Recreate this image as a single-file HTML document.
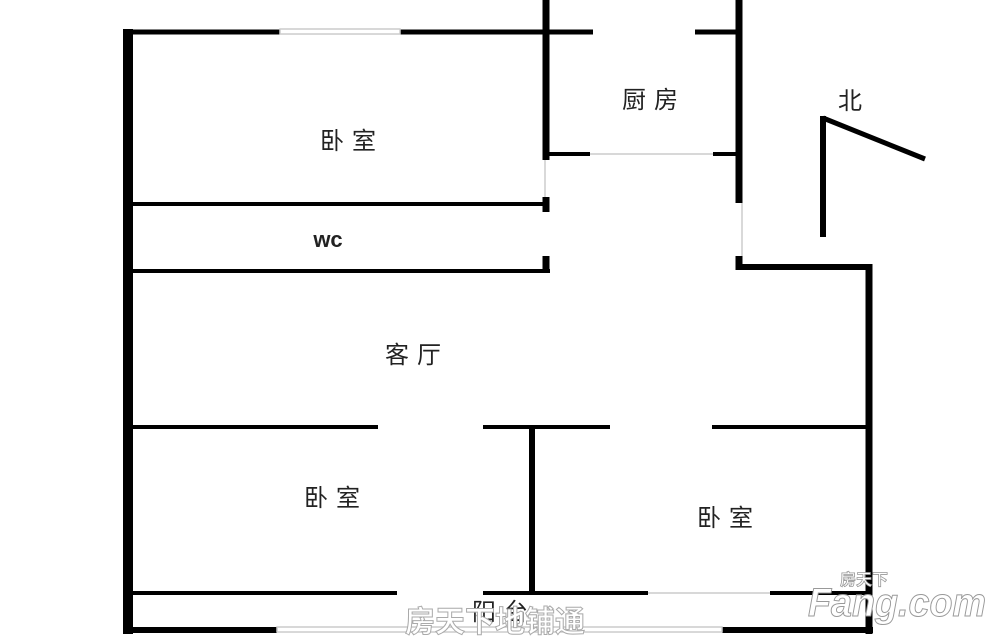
<!DOCTYPE html>
<html><head><meta charset="utf-8"><style>
html,body{margin:0;padding:0;background:#fff;}
svg{display:block;}
text{font-family:"Liberation Sans","Noto Sans CJK SC",sans-serif;fill:#222;}
</style></head><body>
<svg width="1000" height="637" viewBox="0 0 1000 637" xmlns="http://www.w3.org/2000/svg">
<g stroke="#000" stroke-linecap="butt" fill="none">
 <line x1="128" y1="29" x2="128" y2="634" stroke-width="10"/>
 <line x1="123" y1="32" x2="280" y2="32" stroke-width="5"/>
 <line x1="400" y1="32" x2="593" y2="32" stroke-width="5"/>
 <line x1="695" y1="32" x2="740" y2="32" stroke-width="5"/>
 <line x1="546" y1="0" x2="546" y2="160" stroke-width="7"/>
 <line x1="546" y1="197" x2="546" y2="212" stroke-width="7"/>
 <line x1="546" y1="256" x2="546" y2="273" stroke-width="7"/>
 <line x1="133" y1="204" x2="546" y2="204" stroke-width="4"/>
 <line x1="133" y1="271" x2="550" y2="271" stroke-width="4"/>
 <line x1="549" y1="154" x2="590" y2="154" stroke-width="4"/>
 <line x1="713" y1="154" x2="740" y2="154" stroke-width="4"/>
 <line x1="739" y1="0" x2="739" y2="203" stroke-width="7"/>
 <line x1="739" y1="256" x2="739" y2="270" stroke-width="7"/>
 <line x1="736" y1="267" x2="872" y2="267" stroke-width="6"/>
 <line x1="869" y1="264" x2="869" y2="634" stroke-width="7"/>
 <line x1="823" y1="116" x2="823" y2="237" stroke-width="6"/>
 <line x1="823" y1="118" x2="925" y2="159" stroke-width="5"/>
 <line x1="133" y1="427" x2="378" y2="427" stroke-width="4"/>
 <line x1="483" y1="427" x2="610" y2="427" stroke-width="4"/>
 <line x1="712" y1="427" x2="869" y2="427" stroke-width="4"/>
 <line x1="532" y1="427" x2="532" y2="593" stroke-width="6"/>
 <line x1="133" y1="593" x2="397" y2="593" stroke-width="4"/>
 <line x1="483" y1="593" x2="648" y2="593" stroke-width="4"/>
 <line x1="770" y1="593" x2="869" y2="593" stroke-width="4"/>
 <line x1="123" y1="630" x2="277" y2="630" stroke-width="6"/>
 <line x1="722" y1="630" x2="873" y2="630" stroke-width="6"/>
</g>
<g stroke="#ccc" fill="none" stroke-width="1.5">
 <rect x="280" y="29" width="120" height="5"/>
 <line x1="590" y1="154" x2="713" y2="154"/>
 <line x1="545" y1="160" x2="545" y2="197"/>
 <line x1="742" y1="203" x2="742" y2="256"/>
 <line x1="648" y1="593" x2="770" y2="593"/>
 <rect x="277" y="627" width="445" height="5"/>
</g>
<g font-size="24" letter-spacing="8">
 <text x="352" y="149" text-anchor="middle">卧室</text>
 <text x="654" y="108" text-anchor="middle">厨房</text>
 <text x="850" y="109" text-anchor="middle" letter-spacing="0">北</text>
 <text x="417" y="363" text-anchor="middle">客厅</text>
 <text x="336" y="506" text-anchor="middle">卧室</text>
 <text x="729" y="526" text-anchor="middle">卧室</text>
 <text x="504" y="620" text-anchor="middle">阳台</text>
</g>
<text x="328" y="247" text-anchor="middle" font-weight="bold" font-size="22">wc</text>
<text x="495" y="632" text-anchor="middle" font-size="30" style="fill:#fff;stroke:#aaa;stroke-width:1" font-weight="bold">房天下地铺通</text>
<text x="840" y="585" font-size="16" style="fill:#fff;stroke:#999;stroke-width:0.8" font-weight="bold">房天下</text>
<text x="808" y="616" font-size="40" style="fill:#fff;stroke:#999;stroke-width:1" font-weight="bold" font-style="italic" textLength="178" lengthAdjust="spacingAndGlyphs">Fang.com</text>
</svg>
</body></html>
